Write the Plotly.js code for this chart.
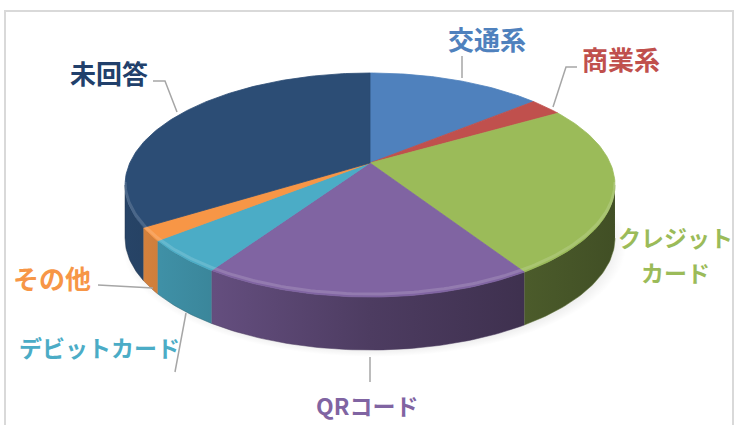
<!DOCTYPE html>
<html><head><meta charset="utf-8">
<script src="https://cdn.plot.ly/plotly-3.0.1.min.js"></script>
<style>html,body{margin:0;padding:0;background:#fff}#chart{width:736px;height:425px}</style>
</head><body><div id="chart"></div>
<script>
// ---- data ----
const categories = ['交通系','商業系','クレジットカード','QRコード','デビットカード','その他','未回答'];
const values = [13.9, 2.6, 24.5, 18.3, 4.8, 1.9, 34.0];
const labelLines = [['交通系'],['商業系'],['クレジット','カード'],['QRコード'],['デビットカード'],['その他'],['未回答']];

// ---- styles ----
const colors = ['#4F81BD','#C0504D','#9BBB59','#8064A2','#4BACC6','#F79646','#2C4D75'];
const labelColors = ['#4F81BD','#C0504D','#9BBB59','#8064A2','#4BACC6','#F79646','#21406B'];
const labelSizes = [26,26,23,23,23,26,26];
const labelPos = [[487,38],[621,58],[675,237],[367,405],[99,347],[52,277],[109,72]];
const lineGap = 35;
const leaderPaths = ['M462,56 L462,78','M577,67 L566,67 L553,107','M370,357 L370,382',
  'M175,372 L186,313','M98,285 L153,288','M153,81 L165,81 L177,112'];
const G = {cx:370, cy:163, a:240.2, b:107.7, k:0.1965, depth:53};

function proj(phi, dz){
  const u = Math.sin(phi), v = Math.cos(phi), w = 1 + G.k*v;
  return [G.cx + G.a*u/w, G.cy - G.b*v/w + (dz||0)];
}
function hexToRgb(h){ const n=parseInt(h.slice(1),16); return [(n>>16)&255,(n>>8)&255,n&255]; }
function shade(h,f){ const c=hexToRgb(h); return 'rgb('+c.map(x=>Math.round(x*f)).join(',')+')'; }
function arc(p0,p1,dz){ const pts=[]; const n=Math.max(2,Math.ceil((p1-p0)/(Math.PI/180))); for(let i=0;i<=n;i++){pts.push(proj(p0+(p1-p0)*i/n,dz));} return pts; }

const total = values.reduce((s,v)=>s+v,0);
const starts=[], ends=[]; let acc=0;
values.forEach(v=>{ starts.push(acc/total*2*Math.PI); acc+=v; ends.push(acc/total*2*Math.PI); });

const traces=[];
// shadow
(function(){
  const pts=arc(0,2*Math.PI,G.depth+4).map(p=>[G.cx+(p[0]-G.cx)*1.03+4, p[1]+3]);
  traces.push({type:'scatter',mode:'lines',x:pts.map(p=>p[0]),y:pts.map(p=>p[1]),fill:'toself',
    line:{width:0},fillgradient:{type:'radial',colorscale:[[0,'rgba(0,0,0,0.2)'],[0.85,'rgba(0,0,0,0.15)'],[1,'rgba(0,0,0,0)']]},hoverinfo:'skip'});
})();
// walls
const vis0 = Math.acos(-G.k), vis1 = 2*Math.PI - Math.acos(-G.k);
categories.forEach((c,i)=>{
  const p0=Math.max(starts[i],vis0), p1=Math.min(ends[i],vis1);
  if(p1<=p0) return;
  const top=arc(p0,p1,0), bot=arc(p0,p1,G.depth).reverse();
  const pts=top.concat(bot);
  traces.push({type:'scatter',mode:'lines',x:pts.map(p=>p[0]),y:pts.map(p=>p[1]),fill:'toself',
    line:{width:0.5,color:shade(colors[i],0.6)},
    fillgradient:{type:'horizontal',start:125,stop:615,colorscale:[[0,shade(colors[i],0.88)],[0.5,shade(colors[i],0.6)],[1,shade(colors[i],0.42)]]},
    hoverinfo:'skip',name:c});
});
// top faces
categories.forEach((c,i)=>{
  const pts=[[G.cx,G.cy]].concat(arc(starts[i],ends[i],0)); pts.push([G.cx,G.cy]);
  traces.push({type:'scatter',mode:'lines',x:pts.map(p=>p[0]),y:pts.map(p=>p[1]),fill:'toself',
    fillcolor:colors[i],line:{width:0.8,color:colors[i]},hoverinfo:'skip',name:c});
});
// rim highlight on front edge
categories.forEach((c,i)=>{
  const p0=Math.max(starts[i],vis0), p1=Math.min(ends[i],vis1);
  if(p1<=p0) return;
  const pts=arc(p0,p1,-3);
  traces.push({type:'scatter',mode:'lines',x:pts.map(p=>p[0]),y:pts.map(p=>p[1]),
    line:{width:3,color:'rgba(255,255,255,0.15)'},hoverinfo:'skip'});
});

const annotations = [];
categories.forEach((c,i)=>{
  labelLines[i].forEach((t,j)=>{
    annotations.push({x:labelPos[i][0],y:labelPos[i][1]+j*lineGap,xref:'x',yref:'y',
      text:'<b>'+t+'</b>',showarrow:false,xanchor:'center',yanchor:'middle',
      font:{family:'"Noto Sans CJK JP", sans-serif',size:labelSizes[i],color:labelColors[i]}});
  });
});
const shapes = leaderPaths.map(p=>({type:'path',path:p,xref:'x',yref:'y',line:{color:'#A6A6A6',width:1.5}}));
shapes.push({type:'rect',xref:'x',yref:'y',x0:5,y0:11,x1:733,y1:440,line:{color:'#D9D9D9',width:2},layer:'below'});

Plotly.newPlot('chart',traces,{
  width:736,height:425,margin:{l:0,r:0,t:0,b:0},showlegend:false,
  paper_bgcolor:'#fff',plot_bgcolor:'#fff',
  xaxis:{range:[0,736],visible:false,fixedrange:true},
  yaxis:{range:[425,0],visible:false,fixedrange:true},
  annotations:annotations,shapes:shapes
},{displayModeBar:false,staticPlot:true});
</script></body></html>
